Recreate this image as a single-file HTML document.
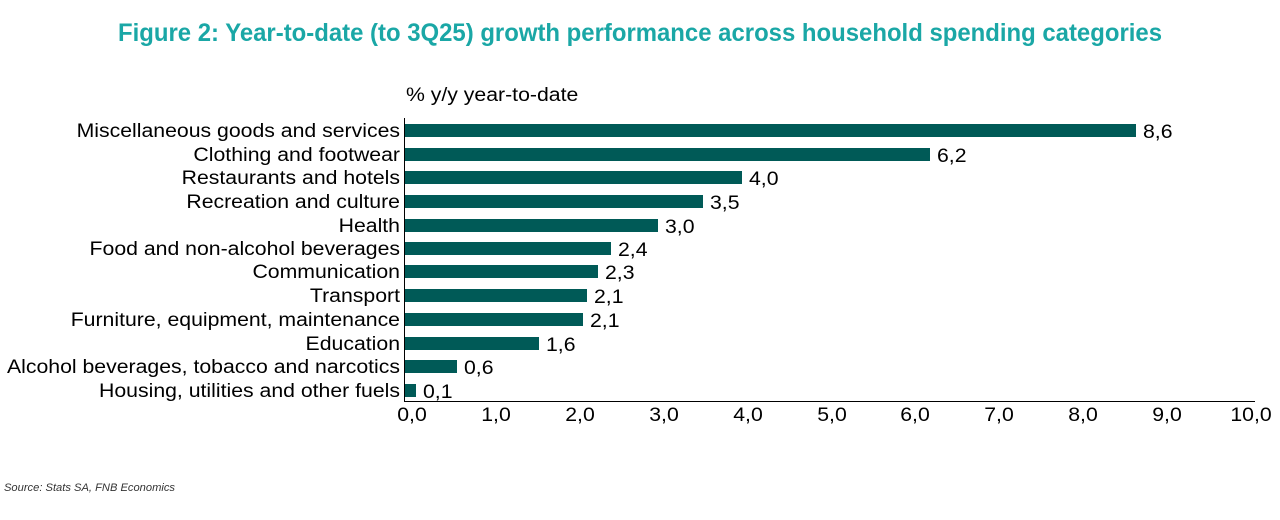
<!DOCTYPE html>
<html><head><meta charset="utf-8"><style>
html,body{margin:0;padding:0;background:#fff;}
svg{display:block;}
</style></head><body>
<svg width="1280" height="520" viewBox="0 0 1280 520" xmlns="http://www.w3.org/2000/svg" font-family="Liberation Sans, Arial, sans-serif">
<text x="640" y="41" text-anchor="middle" font-size="25" font-weight="bold" fill="#1aa7a6" textLength="1044" lengthAdjust="spacingAndGlyphs">Figure 2: Year-to-date (to 3Q25) growth performance across household spending categories</text>
<text transform="translate(406,101) scale(1.09,1)" font-size="19.5" fill="#000">% y/y year-to-date</text>
<g fill="#005a57">
<rect x="405" y="124" width="731" height="13"/>
<rect x="405" y="148" width="525" height="13"/>
<rect x="405" y="171" width="337" height="13"/>
<rect x="405" y="195" width="298" height="13"/>
<rect x="405" y="219" width="253" height="13"/>
<rect x="405" y="242" width="206" height="13"/>
<rect x="405" y="265" width="193" height="13"/>
<rect x="405" y="289" width="182" height="13"/>
<rect x="405" y="313" width="178" height="13"/>
<rect x="405" y="337" width="134" height="13"/>
<rect x="405" y="360" width="52" height="13"/>
<rect x="405" y="384" width="11" height="13"/>
</g>
<g font-size="19.5" fill="#000" text-anchor="end" transform="translate(400,0) scale(1.09,1)">
<text x="0" y="137">Miscellaneous goods and services</text>
<text x="0" y="161">Clothing and footwear</text>
<text x="0" y="184">Restaurants and hotels</text>
<text x="0" y="208">Recreation and culture</text>
<text x="0" y="232">Health</text>
<text x="0" y="255">Food and non-alcohol beverages</text>
<text x="0" y="278">Communication</text>
<text x="0" y="302">Transport</text>
<text x="0" y="326">Furniture, equipment, maintenance</text>
<text x="0" y="350">Education</text>
<text x="0" y="373">Alcohol beverages, tobacco and narcotics</text>
<text x="0" y="397">Housing, utilities and other fuels</text>
</g>
<g font-size="19.5" fill="#000">
<text transform="translate(1143,138) scale(1.09,1)">8,6</text>
<text transform="translate(937,162) scale(1.09,1)">6,2</text>
<text transform="translate(749,185) scale(1.09,1)">4,0</text>
<text transform="translate(710,209) scale(1.09,1)">3,5</text>
<text transform="translate(665,233) scale(1.09,1)">3,0</text>
<text transform="translate(618,256) scale(1.09,1)">2,4</text>
<text transform="translate(605,279) scale(1.09,1)">2,3</text>
<text transform="translate(594,303) scale(1.09,1)">2,1</text>
<text transform="translate(590,327) scale(1.09,1)">2,1</text>
<text transform="translate(546,351) scale(1.09,1)">1,6</text>
<text transform="translate(464,374) scale(1.09,1)">0,6</text>
<text transform="translate(423,398) scale(1.09,1)">0,1</text>
</g>
<line x1="404.5" y1="118" x2="404.5" y2="402" stroke="#000" stroke-width="1"/>
<line x1="404" y1="401.5" x2="1255" y2="401.5" stroke="#000" stroke-width="1"/>
<g font-size="19.5" fill="#000" text-anchor="middle">
<text transform="translate(412,421) scale(1.09,1)">0,0</text>
<text transform="translate(496,421) scale(1.09,1)">1,0</text>
<text transform="translate(580,421) scale(1.09,1)">2,0</text>
<text transform="translate(664,421) scale(1.09,1)">3,0</text>
<text transform="translate(748,421) scale(1.09,1)">4,0</text>
<text transform="translate(832,421) scale(1.09,1)">5,0</text>
<text transform="translate(915,421) scale(1.09,1)">6,0</text>
<text transform="translate(999,421) scale(1.09,1)">7,0</text>
<text transform="translate(1083,421) scale(1.09,1)">8,0</text>
<text transform="translate(1167,421) scale(1.09,1)">9,0</text>
<text transform="translate(1251,421) scale(1.09,1)">10,0</text>
</g>
<text x="4" y="491" font-size="11" font-style="italic" fill="#333" textLength="171" lengthAdjust="spacingAndGlyphs">Source: Stats SA, FNB Economics</text>
</svg>
</body></html>
